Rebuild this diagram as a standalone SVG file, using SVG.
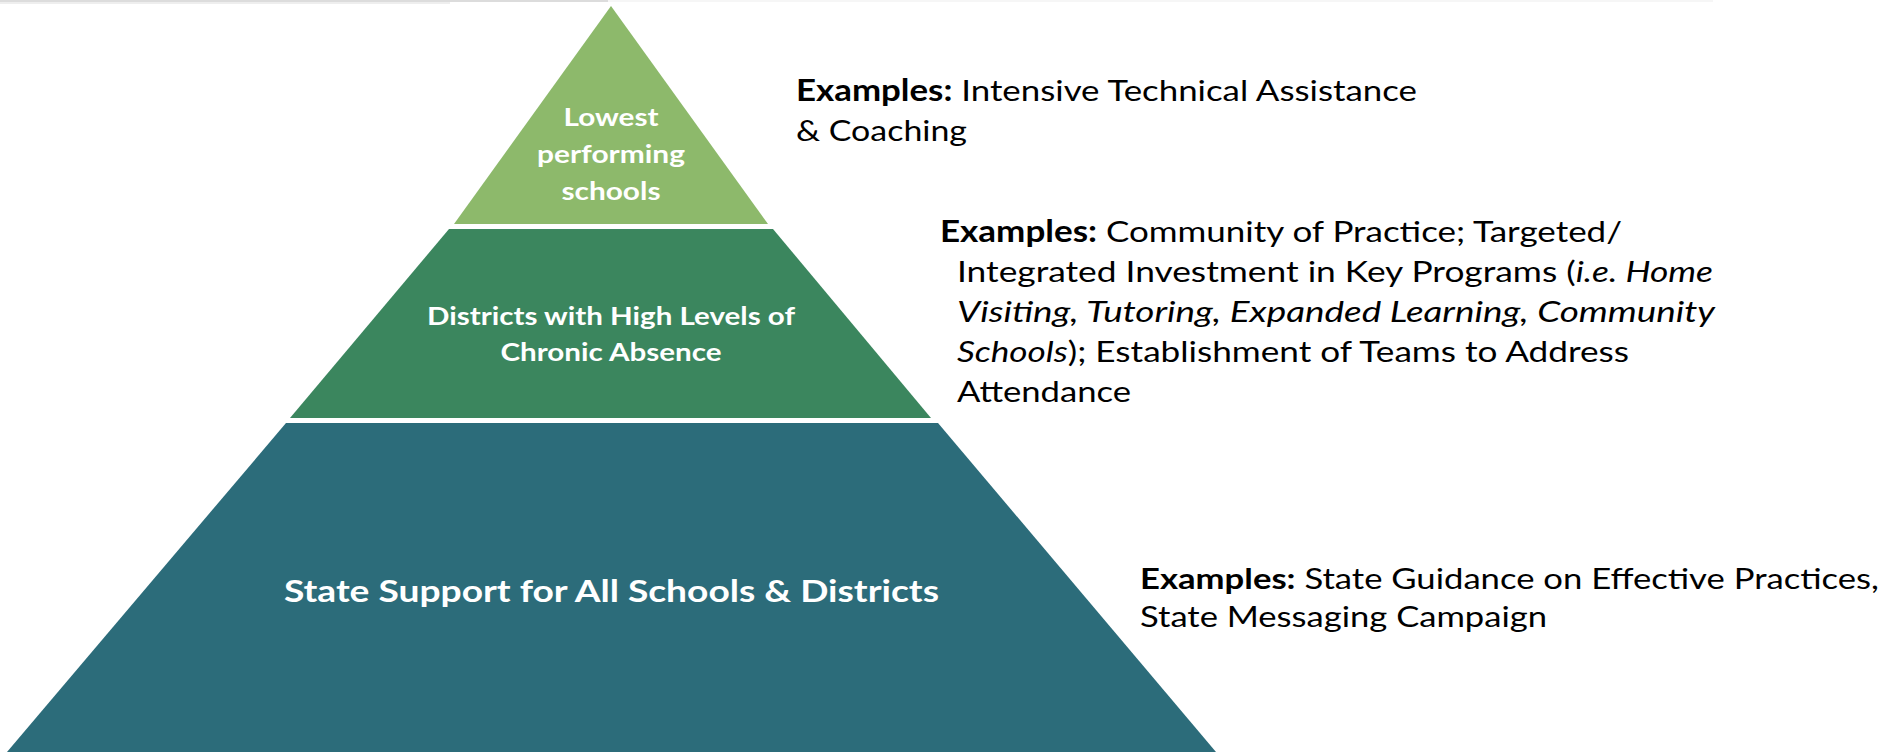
<svg xmlns="http://www.w3.org/2000/svg" width="1882" height="752" viewBox="0 0 1882 752">
<style>
.lbl{font-family:Lato,"Open Sans","Liberation Sans",sans-serif;font-weight:bold;fill:#ffffff;text-anchor:middle}
.ex{font-family:Lato,"Open Sans","Liberation Sans",sans-serif;font-size:29.5px;fill:#000000}
.b{font-weight:bold}
.i{font-style:italic}
</style>
<rect x="0" y="0" width="1882" height="752" fill="#ffffff"/>
<rect x="0" y="0" width="608" height="2" fill="#dcdcdc"/>
<rect x="0" y="2" width="450" height="2" fill="#eeeeee"/>
<rect x="608" y="0" width="1105" height="2" fill="#f6f6f6"/>
<g id="tier-top">
<polygon points="611,6 768,224 454,224" fill="#8db96b"/>
<text class="lbl" font-size="25" x="611" y="126" textLength="95" lengthAdjust="spacingAndGlyphs">Lowest</text>
<text class="lbl" font-size="25" x="611" y="163" textLength="148" lengthAdjust="spacingAndGlyphs">performing</text>
<text class="lbl" font-size="25" x="611" y="200" textLength="99" lengthAdjust="spacingAndGlyphs">schools</text>
</g>
<g id="tier-middle">
<polygon points="449,229 773,229 931,418 290,418" fill="#3b865e"/>
<text class="lbl" font-size="25" x="611" y="325" textLength="368" lengthAdjust="spacingAndGlyphs">Districts with High Levels of</text>
<text class="lbl" font-size="25" x="611" y="361" textLength="221" lengthAdjust="spacingAndGlyphs">Chronic Absence</text>
</g>
<g id="tier-bottom">
<polygon points="286,423 938,423 1216,752 7,752" fill="#2c6c7a"/>
<text class="lbl" font-size="30" x="611.5" y="602" textLength="655" lengthAdjust="spacingAndGlyphs">State Support for All Schools &amp; Districts</text>
</g>
<g id="examples-top">
<text class="ex" x="796" y="101" textLength="621" lengthAdjust="spacingAndGlyphs"><tspan class="b">Examples:</tspan> Intensive Technical Assistance</text>
<text class="ex" x="796" y="141" textLength="171" lengthAdjust="spacingAndGlyphs">&amp; Coaching</text>
</g>
<g id="examples-middle">
<text class="ex" x="940" y="242" textLength="682" lengthAdjust="spacingAndGlyphs"><tspan class="b">Examples:</tspan> Community of Practice; Targeted/</text>
<text class="ex" x="957" y="282" textLength="756" lengthAdjust="spacingAndGlyphs">Integrated Investment in Key Programs (<tspan class="i">i.e. Home</tspan></text>
<text class="ex i" x="957" y="322" textLength="758" lengthAdjust="spacingAndGlyphs">Visiting, Tutoring, Expanded Learning, Community</text>
<text class="ex" x="957" y="362" textLength="672" lengthAdjust="spacingAndGlyphs"><tspan class="i">Schools</tspan>); Establishment of Teams to Address</text>
<text class="ex" x="957" y="402" textLength="174" lengthAdjust="spacingAndGlyphs">Attendance</text>
</g>
<g id="examples-bottom">
<text class="ex" style="font-size:28px" x="1140" y="589" textLength="739" lengthAdjust="spacingAndGlyphs"><tspan class="b">Examples:</tspan> State Guidance on Effective Practices,</text>
<text class="ex" style="font-size:28px" x="1140" y="627" textLength="407" lengthAdjust="spacingAndGlyphs">State Messaging Campaign</text>
</g>
</svg>
